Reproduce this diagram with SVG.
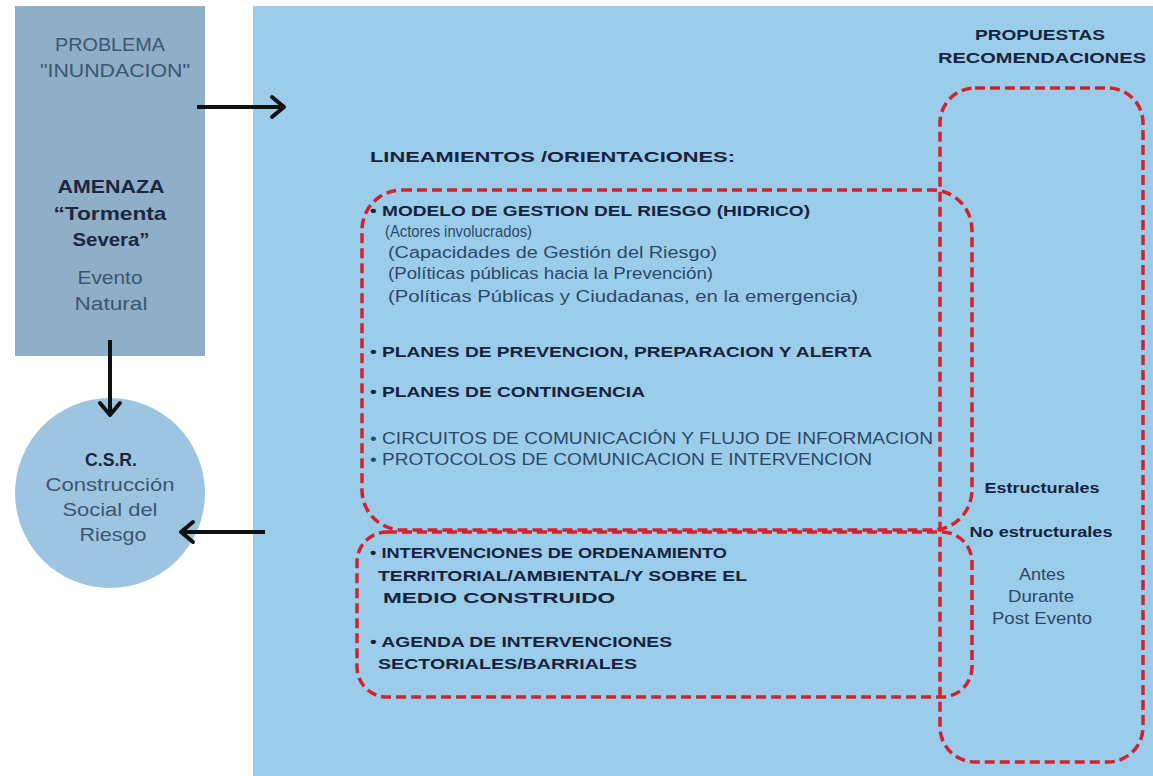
<svg xmlns="http://www.w3.org/2000/svg" width="1153" height="776" viewBox="0 0 1153 776">
<style>
.bg{fill:#ffffff}
.panel{fill:#9bcdeb}
.lbox{fill:#8faec7}
.circ{fill:#9dc5e2}
.dash{fill:none;stroke:#cf2430;stroke-width:3.5;stroke-dasharray:10 5}
.t{font-family:"Liberation Sans","DejaVu Sans",sans-serif;font-size:16px;fill:#2c4868}
.b{font-family:"Liberation Sans","DejaVu Sans",sans-serif;font-size:15px;font-weight:bold;fill:#17233d}
.lt{font-family:"Liberation Sans","DejaVu Sans",sans-serif;font-size:19px;fill:#3b5673;text-anchor:middle}
.lb{font-family:"Liberation Sans","DejaVu Sans",sans-serif;font-size:19px;font-weight:bold;fill:#1b2740;text-anchor:middle}
.c{text-anchor:middle}
.conn{fill:none;stroke:#111111;stroke-width:4}
.head{fill:none;stroke:#111111;stroke-width:4;stroke-linecap:round;stroke-linejoin:round}
</style>
<rect class="bg" x="0" y="0" width="1153" height="776"/>

<g id="panel">
<rect class="panel" x="253" y="6" width="900" height="770"/>
<text class="b" x="370" y="162" font-size="16" textLength="365" lengthAdjust="spacingAndGlyphs">LINEAMIENTOS /ORIENTACIONES:</text>
</g>

<g id="lineamientos">
<rect class="dash" x="362" y="190" width="610" height="340" rx="40"/>
<text class="b" x="370" y="216" textLength="440" lengthAdjust="spacingAndGlyphs">• MODELO DE GESTION DEL RIESGO  (HIDRICO)</text>
<text class="t" x="385" y="237" textLength="147" lengthAdjust="spacingAndGlyphs">(Actores involucrados)</text>
<text class="t" x="388" y="258" textLength="329" lengthAdjust="spacingAndGlyphs">(Capacidades de Gestión del Riesgo)</text>
<text class="t" x="388" y="279" textLength="325" lengthAdjust="spacingAndGlyphs">(Políticas públicas hacia la Prevención)</text>
<text class="t" x="388" y="302" textLength="470" lengthAdjust="spacingAndGlyphs">(Políticas Públicas y Ciudadanas, en la emergencia)</text>
<text class="b" x="370" y="357" textLength="502" lengthAdjust="spacingAndGlyphs">• PLANES DE PREVENCION, PREPARACION Y ALERTA</text>
<text class="b" x="370" y="397" textLength="275" lengthAdjust="spacingAndGlyphs">• PLANES DE CONTINGENCIA</text>
<text class="t" x="370" y="444" textLength="563" lengthAdjust="spacingAndGlyphs">• CIRCUITOS DE COMUNICACIÓN Y FLUJO DE INFORMACION</text>
<text class="t" x="370" y="465" textLength="502" lengthAdjust="spacingAndGlyphs">• PROTOCOLOS DE COMUNICACION E INTERVENCION</text>
</g>

<g id="intervenciones">
<rect class="dash" x="357" y="532" width="615" height="165" rx="30"/>
<text class="b" x="370" y="558" textLength="357" lengthAdjust="spacingAndGlyphs">• INTERVENCIONES DE ORDENAMIENTO</text>
<text class="b" x="378" y="581" textLength="369" lengthAdjust="spacingAndGlyphs">TERRITORIAL/AMBIENTAL/Y SOBRE EL</text>
<text class="b" x="383" y="603" textLength="232" lengthAdjust="spacingAndGlyphs">MEDIO CONSTRUIDO</text>
<text class="b" x="370" y="647" textLength="302" lengthAdjust="spacingAndGlyphs">• AGENDA DE INTERVENCIONES</text>
<text class="b" x="378" y="669" textLength="259" lengthAdjust="spacingAndGlyphs">SECTORIALES/BARRIALES</text>
</g>

<g id="propuestas">
<text class="b c" x="1040" y="40" font-size="16" textLength="130" lengthAdjust="spacingAndGlyphs">PROPUESTAS</text>
<text class="b c" x="1042" y="63" font-size="16" textLength="208" lengthAdjust="spacingAndGlyphs">RECOMENDACIONES</text>
<rect class="dash" x="940" y="88" width="203" height="674" rx="35"/>
<text class="b c" x="1042" y="493" font-size="15" textLength="115" lengthAdjust="spacingAndGlyphs">Estructurales</text>
<text class="b c" x="1041" y="537" font-size="15" textLength="143" lengthAdjust="spacingAndGlyphs">No estructurales</text>
<text class="t c" x="1042" y="580" font-size="15" textLength="46" lengthAdjust="spacingAndGlyphs">Antes</text>
<text class="t c" x="1041" y="602" font-size="15" textLength="66" lengthAdjust="spacingAndGlyphs">Durante</text>
<text class="t c" x="1042" y="624" font-size="15" textLength="100" lengthAdjust="spacingAndGlyphs">Post Evento</text>
</g>

<g id="problema">
<rect class="lbox" x="15" y="6" width="190" height="350"/>
<text class="lt" x="110" y="51" textLength="110" lengthAdjust="spacingAndGlyphs">PROBLEMA</text>
<text class="lt" x="115" y="77" textLength="150" lengthAdjust="spacingAndGlyphs">"INUNDACION"</text>
<text class="lb" x="111" y="193" textLength="107" lengthAdjust="spacingAndGlyphs">AMENAZA</text>
<text class="lb" x="110" y="220" textLength="113" lengthAdjust="spacingAndGlyphs">“Tormenta</text>
<text class="lb" x="111" y="246" textLength="77" lengthAdjust="spacingAndGlyphs">Severa”</text>
<text class="lt" x="110" y="284" textLength="65" lengthAdjust="spacingAndGlyphs">Evento</text>
<text class="lt" x="111" y="310" textLength="73" lengthAdjust="spacingAndGlyphs">Natural</text>
</g>

<g id="csr">
<circle class="circ" cx="110" cy="493" r="95"/>
<text class="lb" x="111" y="466" textLength="52" lengthAdjust="spacingAndGlyphs">C.S.R.</text>
<text class="lt" x="110" y="491" textLength="129" lengthAdjust="spacingAndGlyphs">Construcción</text>
<text class="lt" x="110" y="516" textLength="95" lengthAdjust="spacingAndGlyphs">Social del</text>
<text class="lt" x="113" y="541" textLength="67" lengthAdjust="spacingAndGlyphs">Riesgo</text>
</g>

<g id="connectors">
<line class="conn" x1="197" y1="107" x2="282" y2="107"/>
<polyline class="head" points="272,97 284,107 272,117"/>
<line class="conn" x1="110" y1="340" x2="110" y2="412"/>
<polyline class="head" points="100,403 110,415 120,403"/>
<line class="conn" x1="265" y1="532" x2="183" y2="532"/>
<polyline class="head" points="193,522 181,532 193,542"/>
</g>
</svg>
